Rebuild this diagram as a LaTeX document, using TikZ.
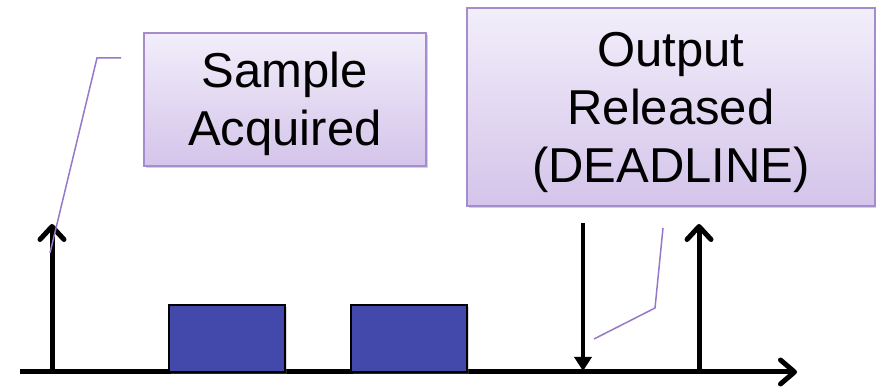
\documentclass[tikz,border=0pt]{standalone}
\usepackage{fontspec}
\setmainfont{Liberation Sans}
\usetikzlibrary{arrows.meta,shadows}
\definecolor{calloutedge}{RGB}{165,140,205}
\definecolor{callouttop}{RGB}{242,238,250}
\definecolor{calloutbottom}{RGB}{212,196,234}
\definecolor{leader}{RGB}{150,120,200}
\definecolor{taskfill}{RGB}{67,73,170}
\tikzset{
  x=1pt, y=-1pt,
  callout/.style={draw=calloutedge, line width=1.5pt, top color=callouttop,
    bottom color=calloutbottom, inner sep=0pt,
    drop shadow={shadow xshift=1.5pt, shadow yshift=-2.5pt, opacity=0.35, fill=gray}},
  callouttext/.style={align=center, inner sep=0pt, font=\fontsize{49}{58}\selectfont},
  task/.style={draw=black, line width=1.5pt, fill=taskfill, inner sep=0pt,
    drop shadow={shadow xshift=1.5pt, shadow yshift=-2.5pt, opacity=0.3, fill=gray}},
  timeline/.style={line width=5pt},
  event/.style={line width=5pt, -{Straight Barb[length=13pt,width=24pt,line width=5pt,round]}},
  deadline/.style={line width=4.5pt, -{Triangle[length=14pt,width=17pt]}},
  leaderline/.style={draw=leader, line width=1.5pt},
}
\begin{document}
\begin{tikzpicture}
\useasboundingbox (0,0) rectangle (876,387);

% time axis
\coordinate (t0) at (20,372);
\coordinate (tend) at (797,372);
\draw[timeline, -{Straight Barb[length=14pt,width=24pt,line width=5pt,round]}] (t0) -- (tend);

% execution slots
\node[task, minimum width=116pt, minimum height=67pt] (job1) at (227,338.5) {};
\node[task, minimum width=116pt, minimum height=67pt] (job2) at (409,338.5) {};

% sample and release instants
\coordinate (s0) at (52,374);
\coordinate (s1) at (52,224);
\draw[event] (s0) -- (s1);

\coordinate (r0) at (699,374);
\coordinate (r1) at (699,224);
\draw[event] (r0) -- (r1);

\coordinate (d0) at (583,223);
\coordinate (d1) at (583,371);
\draw[deadline] (d0) -- (d1);

% labels
\node[callout, minimum width=282pt, minimum height=133pt] (sample) at (285,99.5) {};
\node[callouttext] (sampletext) at (285,104) {Sample\\Acquired};
\node[callout, minimum width=408pt, minimum height=198pt] (output) at (671,107) {};
\node[callouttext] (outputtext) at (671,112) {Output\\Released\\(DEADLINE)};

% leader lines
\coordinate (la) at (121,58);
\coordinate (lb) at (97,58);
\coordinate (lc) at (50,253);
\draw[leaderline] (la) -- (lb) -- (lc);

\coordinate (ma) at (663,228);
\coordinate (mb) at (655,308);
\coordinate (mc) at (594,339);
\draw[leaderline] (ma) -- (mb) -- (mc);
\end{tikzpicture}
\end{document}
